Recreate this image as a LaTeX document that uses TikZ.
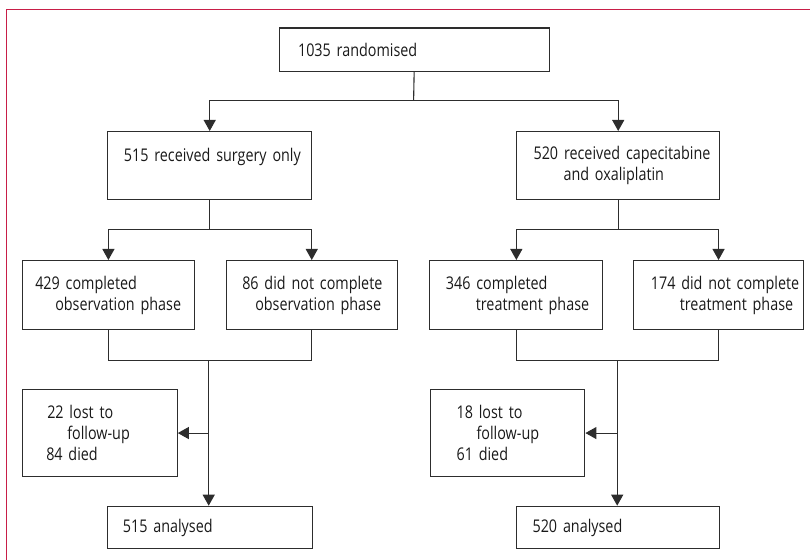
\documentclass[tikz,border=0pt]{standalone}
\usepackage{fontspec}
\setmainfont{Open Sans}[FakeStretch=0.82]
\usetikzlibrary{arrows.meta}
\definecolor{framecol}{RGB}{200,30,72}
\definecolor{linecol}{RGB}{45,45,45}
\newcommand{\ind}[1]{\hspace*{#1bp}}
\begin{document}
\begin{tikzpicture}[x=1bp,y=-1bp,
  box/.style 2 args={draw=linecol, line width=1.1bp, rectangle, anchor=north west,
    align=left, inner xsep=0pt, inner ysep=0pt, text width=#1bp, minimum height=#2bp,
    font=\fontsize{17.5bp}{21bp}\selectfont, text=black!90},
  conn/.style={draw=linecol, line width=1.1bp},
  arr/.style={conn, -{Triangle[width=12bp,length=11bp]}}]
\useasboundingbox (0,0) rectangle (810,560);
% frame
\draw[framecol, line width=1.3bp] (6.7,560) -- (6.7,9.5) -- (810,9.5);
% boxes
\node[box={270.2}{43.2}] (top) at (278.5,27.5) {\ind{19}1035 randomised};
\node[box={203.7}{68}] (L2) at (107.3,131) {\ind{16}515 received surgery only\\~};
\node[box={203.3}{68}] (R2) at (516,131) {\ind{17}520 received capecitabine\\\ind{47}and oxaliplatin};
\node[box={172.3}{69}] (A1) at (21.7,260) {\ind{13}429 completed\\\ind{33}observation phase};
\node[box={171}{69}] (A2) at (225.7,260) {\ind{16}86 did not complete\\\ind{29}observation phase};
\node[box={173}{69}] (B1) at (429.3,260) {\ind{16}346 completed\\\ind{46}treatment phase};
\node[box={169.4}{69}] (B2) at (633.3,260) {\ind{17}174 did not complete\\\ind{46}treatment phase};
\node[box={155}{86.4}] (LS) at (21.7,389.3) {\ind{25}22 lost to\\\ind{45}follow-up\\\ind{24}84 died};
\node[box={154.3}{86.4}] (RS) at (430,389.3) {\ind{26}18 lost to\\\ind{46}follow-up\\\ind{26}61 died};
\node[box={204.4}{42.6}] (LB) at (107.3,505.7) {\ind{15}515 analysed};
\node[box={203.3}{42.6}] (RB) at (516,505.7) {\ind{16}520 analysed};
% connectors
\coordinate (s1) at (413.6,100.7);
\draw[conn] (top.south) -- (s1);
\draw[arr] (s1) -| (L2.north);
\draw[arr] (s1) -| (R2.north);
\path (L2.south) ++(0,29.3) coordinate (s2L);
\path (R2.south) ++(0,29.3) coordinate (s2R);
\draw[conn] (L2.south) -- (s2L);
\draw[conn] (R2.south) -- (s2R);
\draw[arr] (s2L) -| (A1.north);
\draw[arr] (s2L) -| (A2.north);
\draw[arr] (s2R) -| (B1.north);
\draw[arr] (s2R) -| (B2.north);
\path (L2.south) ++(-1,160) coordinate (mL);
\path (R2.south) ++(-1,160) coordinate (mR);
\draw[conn] (A1.south) |- (mL) -| (A2.south);
\draw[conn] (B1.south) |- (mR) -| (B2.south);
\draw[arr] (mL) -- (mL |- LB.north);
\draw[arr] (mR) -- (mR |- RB.north);
\coordinate (jL) at (mL |- LS.east);
\coordinate (jR) at (mR |- RS.east);
\draw[arr] (jL) -- (LS.east);
\draw[arr] (jR) -- (RS.east);
\end{tikzpicture}
\end{document}
